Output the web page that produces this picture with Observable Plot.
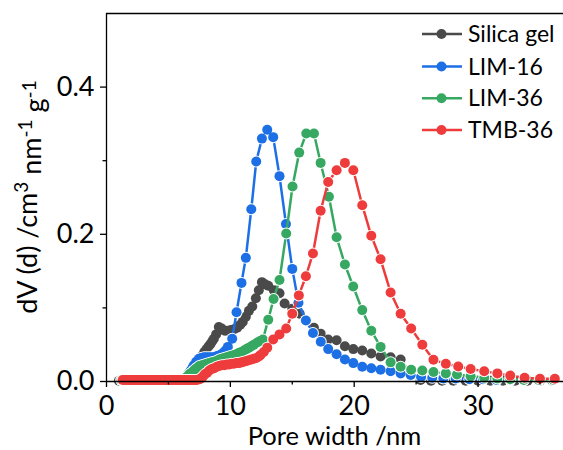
<!DOCTYPE html>
<html>
<head>
<meta charset="utf-8">
<script src="https://cdn.jsdelivr.net/npm/d3@7"></script>
<script src="https://cdn.jsdelivr.net/npm/@observablehq/plot@0.6"></script>
<style>
  html, body { margin: 0; padding: 0; background: #fff; }
  #chart { width: 563px; height: 450px; overflow: hidden; }
</style>
</head>
<body>
<div id="chart"></div>
<script>
// ---- Data ----
const categories = ["Silica gel", "LIM-16", "LIM-36", "TMB-36"];
const colors = ["#4a4a4a", "#1c6fe4", "#36a862", "#ee3c3c"];

const silicaX = [1.0,1.15,1.3,1.45,1.6,1.75,1.9,2.05,2.2,2.35,2.5,2.65,2.8,2.95,3.1,3.25,3.4,3.55,3.7,3.85,
  4.0,4.15,4.3,4.45,4.6,4.75,4.9,5.05,5.2,5.35,5.5,5.65,5.8,5.95,6.1,6.25,
  6.4,6.57,6.75,6.92,7.1,7.33,7.5,7.73,7.9,8.08,8.25,8.4,8.55,8.67,8.85,9.07,9.3,9.55,9.8,10.05,10.3,10.55,10.8,
  11.0,11.25,11.5,11.77,12.06,12.3,12.55,12.8,13.06,13.51,13.97,14.38,15.0,15.6,16.13,16.75,17.29,17.9,18.58,
  19.25,19.93,20.65,21.38,22.13,22.94,23.75,24.56,25.36,26.2,27.1,28.0,29.0,30.0,31.0,32.0,33.0,34.0,35.0,36.0];
const silicaY = [0.001,0.001,0.001,0.001,0.001,0.001,0.001,0.001,0.001,0.001,0.001,0.001,0.001,0.001,0.001,0.001,0.001,0.001,0.001,0.001,
  0.001,0.001,0.001,0.001,0.001,0.001,0.001,0.001,0.001,0.001,0.001,0.001,0.002,0.002,0.002,0.003,
  0.005,0.008,0.012,0.017,0.021,0.026,0.030,0.035,0.040,0.044,0.048,0.051,0.055,0.058,0.064,0.074,0.072,0.069,0.069,0.070,0.071,0.073,0.077,
  0.081,0.088,0.096,0.102,0.113,0.124,0.135,0.132,0.130,0.124,0.120,0.106,0.099,0.092,0.083,0.073,0.065,0.057,0.056,
  0.048,0.044,0.042,0.038,0.034,0.033,0.030,0.011,0.002,0.001,0.001,0.001,0.001,0.001,0.001,0.001,0.001,0.001,0.001,0.001];

const lim16X = [1.2,1.35,1.5,1.65,1.8,1.95,2.1,2.25,2.4,2.55,2.7,2.85,3.0,3.15,3.3,3.45,3.6,3.75,3.9,4.05,
  4.2,4.35,4.5,4.65,4.8,4.95,5.1,5.25,5.4,5.55,5.7,5.85,6.0,6.2,
  6.35,6.5,6.65,6.8,6.95,7.05,7.25,7.46,7.65,7.86,8.05,8.25,8.45,8.67,8.85,9.0,9.2,9.35,9.6,9.8,10.15,10.5,10.9,
  11.25,11.69,12.09,12.55,12.98,13.46,13.97,14.49,15.0,15.5,16.1,16.67,17.3,17.9,18.58,19.25,19.93,20.65,21.38,
  22.13,22.94,23.75,24.56,25.4,26.3,27.2,28.2,29.3,30.4,31.5,32.6,33.7,34.9,36.1];
const lim16Y = [0.002,0.002,0.002,0.002,0.002,0.002,0.002,0.002,0.002,0.002,0.002,0.002,0.002,0.002,0.002,0.002,0.002,0.002,0.002,0.002,
  0.002,0.002,0.002,0.002,0.002,0.002,0.002,0.002,0.002,0.002,0.002,0.003,0.003,0.004,
  0.005,0.008,0.011,0.015,0.019,0.022,0.027,0.031,0.032,0.033,0.033,0.033,0.033,0.033,0.034,0.035,0.036,0.038,0.042,0.047,0.058,0.094,0.134,
  0.168,0.234,0.299,0.330,0.342,0.332,0.279,0.214,0.153,0.107,0.083,0.066,0.054,0.044,0.037,0.030,0.025,0.020,0.018,
  0.016,0.014,0.011,0.009,0.006,0.005,0.004,0.004,0.003,0.003,0.002,0.002,0.002,0.002,0.002];

const lim36X = [1.2,1.35,1.5,1.65,1.8,1.95,2.1,2.25,2.4,2.55,2.7,2.85,3.0,3.15,3.3,3.45,3.6,3.75,3.9,4.05,
  4.2,4.35,4.5,4.65,4.8,4.95,5.1,5.25,5.4,5.55,5.7,5.85,6.0,6.2,
  6.4,6.55,6.7,6.85,7.05,7.2,7.35,7.5,7.7,7.9,8.1,8.3,8.5,8.7,8.9,9.1,9.3,9.5,9.7,9.9,10.1,10.3,10.5,10.7,10.9,
  11.1,11.3,11.5,11.7,11.9,12.17,12.4,12.63,13.06,13.49,13.97,14.51,15.02,15.56,16.13,16.75,17.29,17.96,18.58,
  19.25,19.92,20.65,21.38,22.13,22.94,23.75,24.6,25.5,26.4,27.4,28.3,29.4,30.5,31.56,32.6,33.7,34.9,36.1];
const lim36Y = [0.002,0.002,0.002,0.002,0.002,0.002,0.002,0.002,0.002,0.002,0.002,0.002,0.002,0.002,0.002,0.002,0.002,0.002,0.002,0.002,
  0.002,0.002,0.002,0.002,0.002,0.002,0.002,0.002,0.002,0.002,0.002,0.002,0.003,0.003,
  0.005,0.007,0.010,0.012,0.015,0.017,0.019,0.021,0.022,0.023,0.024,0.025,0.026,0.027,0.028,0.030,0.031,0.032,0.033,0.034,0.035,0.036,0.037,0.039,0.040,
  0.042,0.044,0.046,0.048,0.050,0.053,0.055,0.057,0.084,0.112,0.138,0.201,0.265,0.311,0.337,0.337,0.297,0.251,0.196,
  0.159,0.129,0.097,0.069,0.047,0.026,0.020,0.016,0.015,0.013,0.011,0.0095,0.007,0.005,0.004,0.003,0.002,0.002,0.002];

const tmb36X = [1.3,1.45,1.6,1.75,1.9,2.05,2.2,2.35,2.5,2.65,2.8,2.95,3.1,3.25,3.4,3.55,3.7,3.85,4.0,4.15,
  4.3,4.45,4.6,4.75,4.9,5.05,5.2,5.35,5.5,5.65,5.8,5.95,6.1,6.25,6.4,6.55,6.7,6.85,7.0,7.15,7.3,7.5,
  7.65,7.8,7.95,8.13,8.3,8.5,8.7,8.9,9.1,9.3,9.5,9.7,9.9,10.1,10.3,10.5,10.7,10.9,11.1,11.3,11.5,11.7,11.9,
  12.1,12.3,12.44,12.7,12.98,13.46,13.97,14.51,15.0,15.53,16.1,16.67,17.29,17.9,18.58,19.25,19.93,20.65,21.38,
  22.13,22.94,23.75,24.6,25.5,26.4,27.4,28.4,29.4,30.5,31.56,32.6,33.76,35.0,36.2];
const tmb36Y = [0.002,0.002,0.002,0.002,0.002,0.002,0.002,0.002,0.002,0.002,0.002,0.002,0.002,0.002,0.002,0.002,0.002,0.002,0.002,0.002,
  0.002,0.002,0.002,0.002,0.002,0.002,0.002,0.002,0.002,0.002,0.002,0.002,0.002,0.002,0.002,0.002,0.002,0.002,0.002,0.002,0.002,0.003,
  0.004,0.007,0.010,0.012,0.015,0.017,0.018,0.020,0.021,0.022,0.022,0.023,0.023,0.024,0.024,0.025,0.025,0.026,0.027,0.028,0.029,0.030,0.031,
  0.032,0.034,0.036,0.040,0.046,0.057,0.064,0.072,0.092,0.117,0.143,0.174,0.232,0.271,0.287,0.297,0.287,0.2395,0.198,
  0.166,0.121,0.092,0.072,0.050,0.0295,0.024,0.0204,0.017,0.014,0.011,0.008,0.005,0.0037,0.0037];

const xMajorTicks = [0, 10, 20, 30];
const xMinorTicks = [5, 15, 25, 35];
const yMajorTicks = [0, 0.2, 0.4];
const yMinorTicks = [0.1, 0.3];

const seriesXs = [silicaX, lim16X, lim36X, tmb36X];
const seriesYs = [silicaY, lim16Y, lim36Y, tmb36Y];
const tables = categories.map((name, i) =>
  seriesXs[i].map((x, j) => ({series: name, x, y: seriesYs[i][j]})));

const FONT = "Lato, 'Open Sans', sans-serif";

// each series: line, white halo behind markers, then solid markers
const seriesMarks = tables.flatMap((t, i) => [
  Plot.line(t, {x: "x", y: "y", stroke: colors[i], strokeWidth: 2.5}),
  Plot.dot(t, {x: "x", y: "y", fill: "white", r: 6}),
  Plot.dot(t, {x: "x", y: "y", fill: colors[i], r: 5})
]);

const plot = Plot.plot({
  width: 563,
  height: 450,
  marginLeft: 106,
  marginRight: 0,
  marginTop: 13,
  marginBottom: 69,
  style: {fontFamily: FONT, fontSize: "27px", color: "black", background: "white", overflow: "visible"},
  x: {domain: [0, 36.9], label: null},
  y: {domain: [0, 0.5], label: null},
  marks: [
    ...seriesMarks,
    Plot.axisX(xMajorTicks, {tickSize: 6, tickPadding: 8, fontSize: 27, tickFormat: d => String(d), label: null, strokeWidth: 1.3}),
    Plot.axisX(xMinorTicks, {tickSize: 3.5, tickFormat: () => "", label: null, strokeWidth: 1.3}),
    Plot.axisY(yMajorTicks, {tickSize: 6, tickPadding: 6, fontSize: 27, tickFormat: d3.format(".1f"), label: null, strokeWidth: 1.3}),
    Plot.axisY(yMinorTicks, {tickSize: 3.5, tickFormat: () => "", label: null, strokeWidth: 1.3}),
    Plot.ruleX([0], {stroke: "black", strokeWidth: 1.3}),
    Plot.ruleY([0], {stroke: "black", strokeWidth: 1.3}),
    Plot.ruleY([0.5], {stroke: "black", strokeWidth: 1.3})
  ]
});

document.getElementById("chart").appendChild(plot);

// ---- Axis titles and legend ----
const svg = d3.select(plot);

svg.append("text")
  .attr("x", 334.5).attr("y", 444.5)
  .attr("text-anchor", "middle")
  .style("font-family", FONT).style("font-size", "25.5px").attr("fill", "black")
  .text("Pore width /nm");

const yl = svg.append("text")
  .attr("transform", "translate(37,197) rotate(-90)")
  .attr("text-anchor", "middle")
  .style("font-family", FONT).style("font-size", "27px").attr("fill", "black");
yl.append("tspan").text("dV (d) /cm");
yl.append("tspan").attr("dy", "-0.45em").style("font-size", "19px").text("3");
yl.append("tspan").attr("dy", "0.45em").text(" nm");
yl.append("tspan").attr("dy", "-0.45em").style("font-size", "19px").text("-1");
yl.append("tspan").attr("dy", "0.45em").text(" g");
yl.append("tspan").attr("dy", "-0.45em").style("font-size", "19px").text("-1");

const legendRowsY = [34, 66.5, 98.3, 130];
categories.forEach((name, i) => {
  const g = svg.append("g").attr("transform", `translate(0,${legendRowsY[i]})`);
  g.append("line").attr("x1", 422).attr("x2", 462).attr("y1", 0).attr("y2", 0)
    .attr("stroke", colors[i]).attr("stroke-width", 2.5);
  g.append("circle").attr("cx", 441.5).attr("cy", 0).attr("r", 5).attr("fill", colors[i]);
  g.append("text").attr("x", 468).attr("y", 0).attr("dy", "0.35em")
    .attr("text-anchor", "start")
    .style("font-family", FONT).style("font-size", "23px").attr("fill", "black")
    .text(name);
});
</script>
</body>
</html>
